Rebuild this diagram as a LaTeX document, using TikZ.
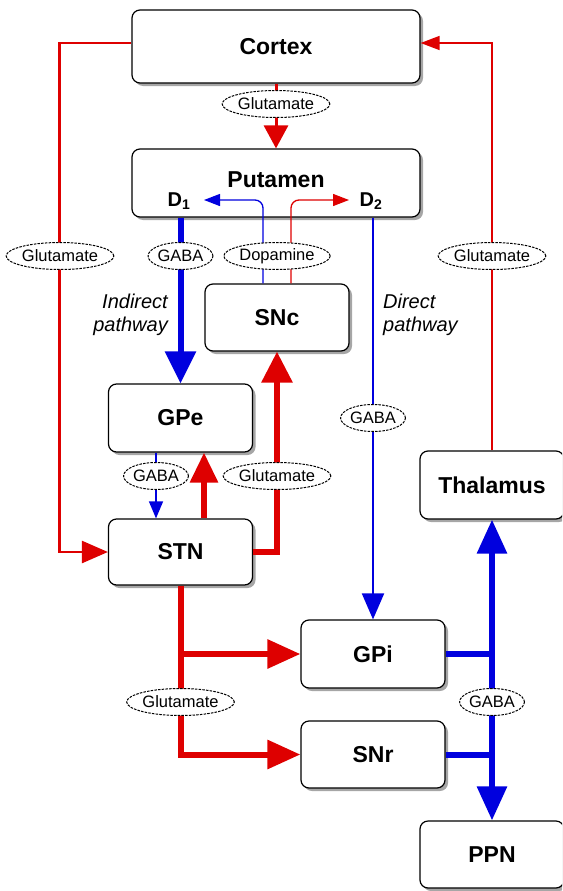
\documentclass[tikz,border=0pt]{standalone}
\usepackage{fontspec}
\setmainfont{Liberation Sans}
\usetikzlibrary{arrows.meta,shapes.geometric,shadows}

\definecolor{glu}{RGB}{222,0,0}
\definecolor{gab}{RGB}{0,0,222}

\tikzset{
  region/.style={draw=black, line width=1.2pt, rounded corners=8pt, fill=white,
    minimum width=#1, minimum height=67pt, inner sep=0pt,
    font=\fontsize{23}{27}\selectfont\bfseries,
    drop shadow={shadow xshift=3pt, shadow yshift=-3pt, fill=black!35, opacity=1}},
  region/.default=144pt,
  transmitter/.style={ellipse, draw=black, line width=1pt, dash pattern=on 2.5pt off 1.2pt,
    fill=white, inner sep=0pt, minimum height=27pt, minimum width=#1,
    font=\fontsize{16.5}{18}\selectfont},
  transmitter/.default=97pt,
  pathlabel/.style={font=\fontsize{20}{23}\selectfont\itshape, inner sep=0pt},
  dlabel/.style={font=\fontsize{20}{23}\selectfont\bfseries, inner sep=0pt},
  excite/.style={draw=glu},
  inhibit/.style={draw=gab},
  tip/.style 2 args={-{Triangle[length=#1pt,width=#2pt]}}
}

\begin{document}
\begin{tikzpicture}[x=1pt,y=-1pt]
\useasboundingbox (0,0) rectangle (562,891);
\clip (0,0) rectangle (562,891);

% nuclei
\node[region=288pt, minimum height=73pt] (cortex) at (276,46.5) {Cortex};
\node[region=288pt, minimum height=68pt] (putamen) at (276,183) {};
\node[region] (snc) at (277,317.5) {SNc};
\node[region, minimum height=68pt] (gpe) at (180.5,418) {GPe};
\node[region, minimum height=66pt] (stn) at (180.5,552) {STN};
\node[region, minimum height=68pt] (thalamus) at (492,485) {Thalamus};
\node[region, minimum height=68pt] (gpi) at (373,654) {GPi};
\node[region] (snr) at (373,754.5) {SNr};
\node[region] (ppn) at (492,854.5) {PPN};

% labels inside the putamen
\node[font=\fontsize{23}{27}\selectfont\bfseries, inner sep=0pt] (putlabel) at (276,180) {Putamen};
\node[dlabel] (d1) at (179,201) {D\textsubscript{1}};
\node[dlabel] (d2) at (371,201) {D\textsubscript{2}};
\coordinate (d1tip) at (204,200);
\coordinate (d2tip) at (349,200);

% glutamatergic projections
\draw[excite, line width=3pt, tip={23}{24}] (cortex.south) -- (putamen.north);
\draw[excite, line width=2.5pt, tip={26}{22}]
  ([yshift=3.5pt]cortex.west) -- ++(-72,0) |- (stn.west);
\draw[excite, line width=1.5pt, tip={19}{14}]
  (thalamus.north) |- ([yshift=3.5pt]cortex.east);
\draw[excite, line width=6pt, tip={30}{27}]
  ([xshift=23.5pt]stn.north) -- ([xshift=23.5pt]gpe.south);
\draw[excite, line width=6pt, tip={31}{30}] (stn.east) -| (snc.south);
\draw[excite, line width=6pt, tip={33}{28}] (stn.south) |- (snr.west);
\draw[excite, line width=6pt, tip={33}{28}] (stn.south |- gpi.west) -- (gpi.west);

% GABAergic projections
\draw[inhibit, line width=6pt, tip={32}{30}] (putamen.south -| gpe.north) -- (gpe.north);
\draw[inhibit, line width=2pt, tip={26}{22}] (putamen.south -| gpi.north) -- (gpi.north);
\draw[inhibit, line width=1.3pt, tip={17}{14}]
  ([xshift=-24.5pt]gpe.south) -- ([xshift=-24.5pt]stn.north);
\draw[inhibit, line width=6pt,
  {Triangle[length=34pt,width=29pt]}-{Triangle[length=34pt,width=29pt]}]
  (thalamus.south) -- (ppn.north);
\draw[inhibit, line width=6pt] (gpi.east) -- ([xshift=3pt]gpi.east -| ppn.north);
\draw[inhibit, line width=6pt] (snr.east) -- ([xshift=3pt]snr.east -| ppn.north);

% dopaminergic projections from SNc
\draw[inhibit, line width=1.3pt, rounded corners=8pt, tip={16}{12}]
  ([xshift=-14pt]snc.north) |- (d1tip);
\draw[excite, line width=1.3pt, rounded corners=8pt, tip={16}{12}]
  ([xshift=14pt]snc.north) |- (d2tip);

% transmitter tags
\node[transmitter] (t1) at (276,104) {Glutamate};
\node[transmitter] (t2) at (60,256) {Glutamate};
\node[transmitter=60pt] (t3) at (180.5,256) {GABA};
\node[transmitter] (t4) at (277,256) {Dopamine};
\node[transmitter] (t5) at (492,256) {Glutamate};
\node[transmitter=58pt] (t6) at (373,418) {GABA};
\node[transmitter=59pt] (t7) at (156,476) {GABA};
\node[transmitter] (t8) at (277,476) {Glutamate};
\node[transmitter] (t9) at (180.5,702) {Glutamate};
\node[transmitter=59pt] (t10) at (492,702) {GABA};

% pathway names
\node[pathlabel, align=right, anchor=east] (indirect) at (168,314.5) {Indirect\\pathway};
\node[pathlabel, align=left, anchor=west] (direct) at (383,314.5) {Direct\\pathway};
\end{tikzpicture}
\end{document}
